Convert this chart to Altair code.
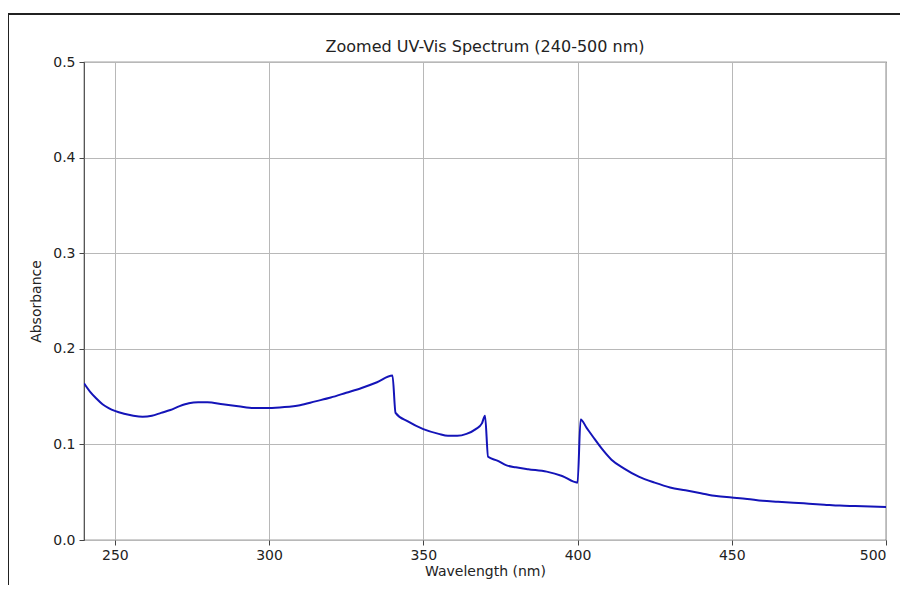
import altair as alt
import pandas as pd

wavelength = [240, 242, 244, 246, 248, 250, 253, 256, 259, 262, 265, 268, 271, 274, 277, 280,
              285, 290, 295, 300, 305, 310, 315, 320, 325, 330, 335, 340, 341, 345, 350, 355,
              358, 361, 364, 367, 369, 370, 371, 374, 377, 380, 384, 390, 395, 400, 401, 403,
              405, 408, 411, 415, 420, 425, 430, 435, 440, 445, 450, 455, 460, 465, 470, 475,
              480, 485, 490, 495, 500]
absorbance = [0.164, 0.155, 0.148, 0.142, 0.138, 0.135, 0.132, 0.130, 0.129, 0.130, 0.133, 0.136,
              0.140, 0.143, 0.144, 0.144, 0.142, 0.140, 0.138, 0.138, 0.139, 0.141, 0.145, 0.149,
              0.154, 0.159, 0.165, 0.172, 0.133, 0.124, 0.116, 0.111, 0.109, 0.109, 0.111, 0.116,
              0.122, 0.130, 0.087, 0.083, 0.078, 0.076, 0.074, 0.0715, 0.067, 0.060, 0.126, 0.117,
              0.108, 0.095, 0.084, 0.075, 0.066, 0.060, 0.055, 0.052, 0.049, 0.046, 0.0445, 0.043,
              0.041, 0.040, 0.039, 0.038, 0.037, 0.036, 0.0355, 0.035, 0.0345]
x_ticks = [250, 300, 350, 400, 450, 500]
y_ticks = [0.0, 0.1, 0.2, 0.3, 0.4, 0.5]
title_text = ["Zoomed UV-Vis Spectrum (240-500 nm)"]

df = pd.DataFrame({"wavelength": wavelength, "absorbance": absorbance})
df_title = pd.DataFrame({"t": title_text})

FONT = "DejaVu Sans"

line = alt.Chart(df).mark_line(color="#1414b8", strokeWidth=2, clip=True,
                               interpolate="monotone").encode(
    x=alt.X("wavelength:Q", scale=alt.Scale(domain=[240, 500], nice=False, zero=False),
            axis=alt.Axis(values=x_ticks, title="Wavelength (nm)", format="d",
                          grid=True, gridColor="#b8b8b8", gridWidth=1,
                          domain=False, tickColor="#444", tickSize=5, labelPadding=3,
                          labelFontSize=14, labelColor="#222", labelFont=FONT,
                          titleFont=FONT, titleFontSize=14, titleFontWeight="normal",
                          titleColor="#222", titlePadding=2)),
    y=alt.Y("absorbance:Q", scale=alt.Scale(domain=[0, 0.5], nice=False),
            axis=alt.Axis(values=y_ticks, title="Absorbance", format=".1f",
                          grid=True, gridColor="#b8b8b8", gridWidth=1,
                          domain=False, tickColor="#444", tickSize=5, labelPadding=4,
                          labelFontSize=14, labelColor="#222", labelFont=FONT,
                          titleFont=FONT, titleFontSize=14, titleFontWeight="normal",
                          titleColor="#222", titlePadding=9)),
)

title = alt.Chart(df_title).mark_text(font=FONT, fontSize=16, color="#222",
                                      align="center", baseline="alphabetic").encode(
    x=alt.value(401), y=alt.value(-10), text="t:N"
)

frame_top = alt.Chart(df).mark_rule(color="#222", strokeWidth=1.5).encode(
    x=alt.value(-76), x2=alt.value(830), y=alt.value(-48)
)
frame_left = alt.Chart(df).mark_rule(color="#222", strokeWidth=1.5).encode(
    x=alt.value(-76), y=alt.value(-48), y2=alt.value(530)
)

chart = alt.layer(line, title, frame_top, frame_left).properties(
    width=802,
    height=478,
    autosize=alt.AutoSizeParams(type="none"),
    padding={"left": 76, "top": 54, "right": 14, "bottom": 45},
).configure_view(stroke="#444", strokeWidth=1.2)

chart.save("out.html", embed_options={"renderer": "svg", "actions": False})
